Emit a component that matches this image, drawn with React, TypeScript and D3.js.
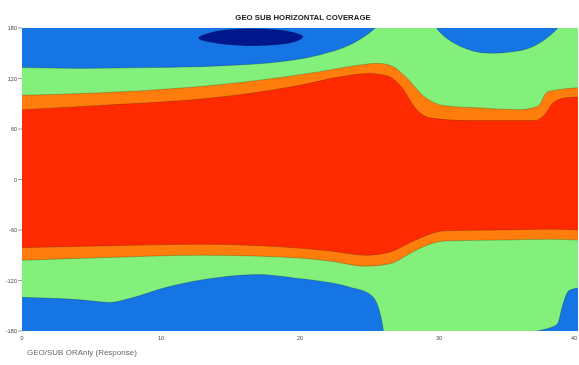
import React from "react";
import * as d3 from "d3";

const W = 579;
const H = 365;
const M = { left: 22, right: 578, top: 28, bottom: 331 };

const title = "GEO SUB HORIZONTAL COVERAGE";
const footer = "GEO/SUB ORAnly (Response)";

const xTicks = [0, 10, 20, 30, 40];
const yTicks = [180, 120, 60, 0, -60, -120, -180];

// Level colours, from top of the plot downwards
const colTop = "#1674e4";
const colB1 = "#82f07a"; // below boundary 1
const colB2 = "#ff7d0a"; // below boundary 2
const colB3 = "#ff2c00"; // below boundary 3
const colB4 = "#ff7d0a"; // below boundary 4
const colB5 = "#82f07a"; // below boundary 5
const colB6 = "#1674e4"; // below boundary 6
const colDeep = "#03168c";

// Boundary 1: blue / green (upper)
const b1X = [0, 4.2, 9.2, 14.2, 18.6, 21.4, 23.6, 24.9, 25.8, 26.8, 29, 29.9, 31.2, 33.7, 35.8, 37.6, 38.5, 39.4, 40];
const b1Y = [133, 132, 133, 135, 140, 148, 160, 173, 185, 199, 199, 178, 161, 150, 153, 166, 179, 199, 199];
// Boundary 2: green / orange (upper)
const b2X = [0, 5.6, 11.7, 17.1, 21.4, 24.3, 25.6, 26.6, 27.6, 28.9, 30.3, 33.0, 35.8, 37.1, 37.8, 38.7, 40];
const b2Y = [100, 103, 109, 118, 128, 136, 138, 135, 122, 99, 88, 85, 83, 87, 104, 107, 109];
// Boundary 3: orange / red (upper)
const b3X = [0, 5.6, 14.3, 20, 22.9, 25.0, 26.3, 27.2, 28.4, 29.4, 32.2, 36.9, 37.6, 38.2, 39.1, 40];
const b3Y = [83, 88, 98, 112, 122, 126, 123, 112, 83, 73, 70, 70, 77, 91, 97, 98];
// Boundary 4: red / orange (lower)
const b4X = [0, 5.6, 12.8, 18.6, 22.2, 24.7, 26.5, 27.9, 29.0, 30.4, 34.4, 38.0, 40];
const b4Y = [-81, -79, -77, -80, -85, -90, -86, -75, -67, -61, -60, -59, -60];
// Boundary 5: orange / green (lower)
const b5X = [0, 5.6, 12.8, 18.6, 22.2, 24.7, 26.5, 27.9, 29.0, 30.4, 34.4, 38.0, 40];
const b5Y = [-96, -93, -90, -92, -97, -103, -100, -88, -79, -73, -72, -71, -72];
// Boundary 6: green / blue (lower)
const b6X = [0, 4.2, 6.3, 7.8, 10.4, 14.3, 17.0, 19.6, 23.6, 25.0, 25.6, 25.9, 26.2, 28.6, 34.4, 36.0, 37.6, 38.5, 38.9, 39.35, 40];
const b6Y = [-140, -143, -146, -141, -128, -116, -113, -117, -128, -136, -150, -169, -197, -203, -200, -184, -178, -172, -149, -132, -129];

// Deep minimum (closed contour)
const deepX = [12.7, 14.0, 16.3, 18.8, 20.2, 19.2, 16.5, 14.0];
const deepY = [168, 176, 179, 177, 170, 162, 159, 162];

export default function App() {
  const x = d3.scaleLinear().domain([0, 40]).range([M.left, M.right]);
  const y = d3.scaleLinear().domain([-180, 180]).range([M.bottom, M.top]);

  const fills: [number[], number[], string][] = [
    [b1X, b1Y, colB1],
    [b2X, b2Y, colB2],
    [b3X, b3Y, colB3],
    [b4X, b4Y, colB4],
    [b5X, b5Y, colB5],
    [b6X, b6Y, colB6],
  ];

  const area = (xs: number[], ys: number[]) =>
    d3
      .area<number>()
      .x((_, i) => x(xs[i]))
      .y0(M.bottom + 40)
      .y1((_, i) => y(ys[i]))
      .curve(d3.curveMonotoneX)(ys) as string;
  const line = (xs: number[], ys: number[]) =>
    d3
      .line<number>()
      .x((_, i) => x(xs[i]))
      .y((_, i) => y(ys[i]))
      .curve(d3.curveMonotoneX)(ys) as string;
  const deep = d3
    .line<number>()
    .x((_, i) => x(deepX[i]))
    .y((_, i) => y(deepY[i]))
    .curve(d3.curveCardinalClosed)(deepY) as string;

  return (
    <svg
      width={W}
      height={H}
      style={{ position: "absolute", left: 0, top: 0, background: "#fff" }}
      fontFamily="Liberation Sans, Arial, sans-serif"
    >
      <defs>
        <clipPath id="plot">
          <rect x={M.left} y={M.top} width={M.right - M.left} height={M.bottom - M.top} />
        </clipPath>
        <filter id="soft" x="-5%" y="-5%" width="110%" height="110%">
          <feGaussianBlur stdDeviation="0.7" />
        </filter>
        <filter id="softT">
          <feGaussianBlur stdDeviation="0.35" />
        </filter>
      </defs>
      <g clipPath="url(#plot)">
        <g filter="url(#soft)">
          <rect x={M.left} y={M.top} width={M.right - M.left} height={M.bottom - M.top} fill={colTop} />
          {fills.map(([xs, ys, c], i) => (
            <path key={i} d={area(xs, ys)} fill={c} />
          ))}
          {fills.map(([xs, ys], i) => (
            <path key={"l" + i} d={line(xs, ys)} fill="none" stroke="#000" strokeOpacity={0.22} strokeWidth={0.9} />
          ))}
          <path d={deep} fill={colDeep} stroke="#000" strokeOpacity={0.2} strokeWidth={0.8} />
        </g>
      </g>
      <g filter="url(#softT)" fill="#444">
        <text x={303} y={20} textAnchor="middle" fontSize={7.8} fontWeight="bold" fill="#222">
          {title}
        </text>
        {yTicks.map((t) => (
          <g key={t}>
            <line x1={18} x2={22} y1={y(t)} y2={y(t)} stroke="#888" strokeWidth={0.8} />
            <text x={17} y={y(t) + 2} textAnchor="end" fontSize={5.5}>
              {t}
            </text>
          </g>
        ))}
        {xTicks.map((t, i) => (
          <text
            key={t}
            x={i === xTicks.length - 1 ? x(t) - 1 : x(t)}
            y={340}
            textAnchor={i === xTicks.length - 1 ? "end" : "middle"}
            fontSize={5.5}
          >
            {t}
          </text>
        ))}
        <text x={27} y={355} fontSize={8} fill="#666">
          {footer}
        </text>
      </g>
    </svg>
  );
}
